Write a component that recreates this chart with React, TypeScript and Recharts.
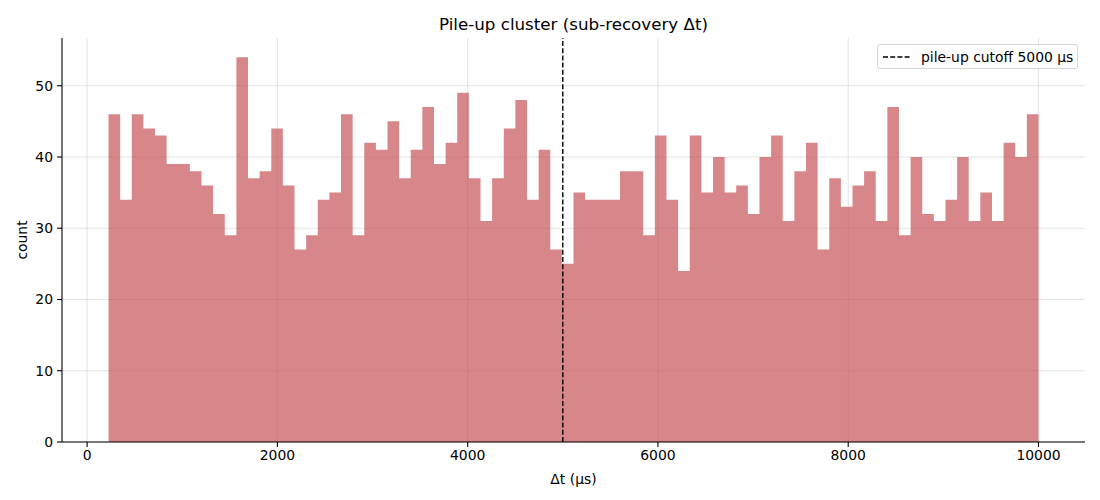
import React from "react";
import {
  ComposedChart,
  Area,
  XAxis,
  YAxis,
  CartesianGrid,
  ReferenceLine,
} from "recharts";

// Histogram counts (80 bins)
const counts: number[] = [
  46, 34, 46, 44, 43, 39, 39, 38, 36, 32,
  29, 54, 37, 38, 44, 36, 27, 29, 34, 35,
  46, 29, 42, 41, 45, 37, 41, 47, 39, 42,
  49, 37, 31, 37, 44, 48, 34, 41, 27, 25,
  35, 34, 34, 34, 38, 38, 29, 43, 34, 24,
  43, 35, 40, 35, 36, 32, 40, 43, 31, 38,
  42, 27, 37, 33, 36, 38, 31, 47, 29, 40,
  32, 31, 34, 40, 31, 35, 31, 42, 40, 46,
];
const binStart = 225;
const binEnd = 10000;
const xTicks = [0, 2000, 4000, 6000, 8000, 10000];
const yTicks = [0, 10, 20, 30, 40, 50];
const cutoff = 5000;

const binWidth = (binEnd - binStart) / counts.length;
const data = counts
  .map((c, i) => ({ x: binStart + i * binWidth, count: c }))
  .concat([{ x: binEnd, count: counts[counts.length - 1] }]);

const FONT = "'DejaVu Sans', sans-serif";

export default function App() {
  return (
    <div style={{ position: "relative", width: 1100, height: 500, fontFamily: FONT, background: "#fff" }}>
      <style>{"body{margin:0}"}</style>
      <div
        style={{
          position: "absolute",
          left: 62,
          width: 1023,
          top: 14,
          textAlign: "center",
          fontSize: 16.7,
          color: "#000",
          lineHeight: "20px",
        }}
      >
        Pile-up cluster (sub-recovery Δt)
      </div>
      <ComposedChart
        width={1100}
        height={500}
        data={data}
        margin={{ top: 38, right: 15, bottom: 0, left: 0 }}
      >
        <CartesianGrid stroke="#b0b0b0" strokeOpacity={0.35} strokeWidth={1} vertical horizontal
          verticalValues={xTicks} horizontalValues={yTicks} />
        <XAxis
          dataKey="x"
          type="number"
          domain={[-264, 10489]}
          ticks={xTicks}
          allowDataOverflow
          height={58}
          tickSize={5}
          tickMargin={3}
          tick={{ fill: "#000", fontSize: 13.9, fontFamily: FONT }}
          tickLine={{ stroke: "#000", strokeWidth: 1.1 }}
          axisLine={{ stroke: "#000", strokeWidth: 1.1 }}
          label={{ value: "Δt (μs)", position: "insideBottom", offset: 16, fill: "#000", fontSize: 13.9, fontFamily: FONT }}
        />
        <YAxis
          type="number"
          domain={[0, 56.7]}
          ticks={yTicks}
          allowDataOverflow
          width={62}
          tickSize={5}
          tickMargin={4}
          tick={{ fill: "#000", fontSize: 13.9, fontFamily: FONT }}
          tickLine={{ stroke: "#000", strokeWidth: 1.1 }}
          axisLine={{ stroke: "#000", strokeWidth: 1.1 }}
          label={{ value: "count", angle: -90, position: "insideLeft", offset: 22, fill: "#000", fontSize: 13.9, fontFamily: FONT, style: { textAnchor: "middle" } }}
        />
        <Area
          type="stepAfter"
          dataKey="count"
          stroke="none"
          fill="#c44e52"
          fillOpacity={0.68}
          isAnimationActive={false}
          dot={false}
          activeDot={false}
        />
        <ReferenceLine x={cutoff} stroke="#000" strokeWidth={1.4} strokeDasharray="5 2.2" />
      </ComposedChart>
      <div
        style={{
          position: "absolute",
          left: 877,
          top: 44,
          width: 199,
          height: 23,
          border: "1px solid #d5d5d5",
          borderRadius: 3,
          background: "rgba(255,255,255,0.8)",
          display: "flex",
          alignItems: "center",
          fontSize: 13.9,
          color: "#000",
        }}
      >
        <svg width={38} height={10} style={{ marginLeft: 5, flexShrink: 0 }}>
          <line x1={0} y1={5} x2={28} y2={5} stroke="#000" strokeWidth={1.4} strokeDasharray="5 2.2" />
        </svg>
        <span style={{ whiteSpace: "nowrap" }}>pile-up cutoff 5000 μs</span>
      </div>
    </div>
  );
}
